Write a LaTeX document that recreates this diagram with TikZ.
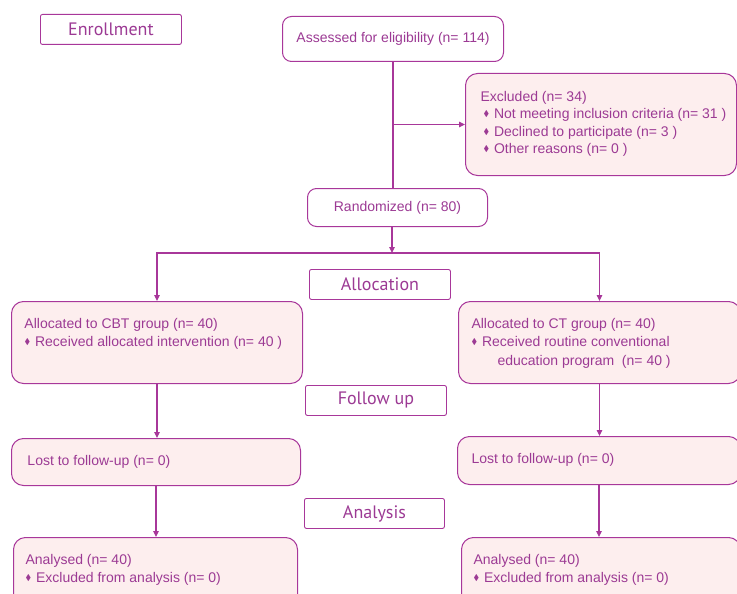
\documentclass[tikz,border=0pt]{standalone}
\usepackage{amssymb}
\usepackage{fontspec}
\setmainfont{Liberation Sans}
\newfontfamily\headfont{PT Sans}
\usetikzlibrary{arrows.meta, calc}

\definecolor{linec}{HTML}{A8379A}
\definecolor{textc}{HTML}{9C3A94}
\definecolor{pinkf}{HTML}{FDEEEE}
\newcommand{\dia}{\raisebox{2pt}{\scalebox{0.6}{$\blacklozenge$}}\hspace{5pt}}

\tikzset{
  stage/.style = {draw=linec, fill=white, rounded corners=2pt, line width=0.9pt,
                  text=textc, font=\headfont\fontsize{18}{20}\selectfont,
                  anchor=north west, inner sep=0pt},
  whitebox/.style = {draw=linec, fill=white, rounded corners=9pt, line width=1pt,
                     text=textc, font=\fontsize{14}{16}\selectfont,
                     anchor=north west, inner sep=0pt},
  pinkbox/.style n args = {3}{whitebox, fill=pinkf, rounded corners=12pt,
                     font=\fontsize{14}{18.5}\selectfont,
                     execute at begin node={\begin{minipage}[c][#2][t]{#1}\leftskip=#3\relax\vspace*{16.5pt}},
                     execute at end node={\end{minipage}}},
  line/.style = {draw=linec, line width=1.2pt},
  arr/.style = {line, -{Triangle[length=6pt, width=5.5pt]}}
}

\begin{document}
\begin{tikzpicture}[x=1pt, y=-1pt]
  \path[use as bounding box, clip] (0,0) rectangle (737,594);

  % enrollment
  \node[stage, minimum width=141pt, minimum height=30pt] (enr) at (40,14) {Enrollment};
  \node[whitebox, minimum width=221pt, minimum height=45pt] (ass) at (282,16)
       {Assessed for eligibility (n= 114)};
  \node[pinkbox={271pt}{102pt}{15pt}] (excl) at (465,73)
       {\vspace{1.5pt}Excluded (n= 34)\\[-1.2pt]
        \hspace*{3pt}\dia Not meeting inclusion criteria (n= 31 )\\[-1.2pt]
        \hspace*{3pt}\dia Declined to participate (n= 3 )\\[-1.2pt]
        \hspace*{3pt}\dia Other reasons (n= 0 )};
  \node[whitebox, minimum width=180pt, minimum height=38pt] (rand) at (307,188)
       {Randomized (n= 80)};

  % allocation
  \node[stage, minimum width=141pt, minimum height=30pt] (alloc) at (309,269) {Allocation};
  \node[pinkbox={291pt}{82pt}{13pt}] (cbt) at (11,301)
       {Allocated to CBT group (n= 40)\\
        \dia Received allocated intervention (n= 40 )};
  \node[pinkbox={282pt}{82pt}{13pt}] (ct) at (458,301)
       {Allocated to CT group (n= 40)\\
        \dia Received routine conventional\\
        \hspace*{26pt}education program\ \ (n= 40 )};

  % follow up
  \node[stage, minimum width=141pt, minimum height=30pt] (fol) at (305,385) {Follow up};
  \node[pinkbox={289pt}{47pt}{16pt}] (lostL) at (11,438) {Lost to follow-up (n= 0)};
  \node[pinkbox={283pt}{48pt}{14pt}] (lostR) at (457,436) {Lost to follow-up (n= 0)};

  % analysis
  \node[stage, minimum width=140pt, minimum height=30pt] (ana) at (304,498) {Analysis};
  \node[pinkbox={284pt}{70pt}{12pt}] (anaL) at (13,537)
       {Analysed (n= 40)\\
        \dia Excluded from analysis (n= 0)};
  \node[pinkbox={279pt}{70pt}{12pt}] (anaR) at (461,537)
       {Analysed (n= 40)\\
        \dia Excluded from analysis (n= 0)};

  \coordinate (br) at (ass.south |- excl.west);
  \coordinate (split) at (392,253);

  \draw[line] (ass.south) -- (ass.south |- rand.north);
  \draw[arr] (br) -- (excl.west);
  \draw[arr] (split |- rand.south) -- (split);
  \draw[arr] (split) -| (cbt.north);
  \draw[arr] (split) -| (ct.north);

  \draw[arr] (cbt.south) -- (cbt.south |- lostL.north);
  \draw[arr] (ct.south) -- (ct.south |- lostR.north);
  \draw[arr] (lostL.south) -- (lostL.south |- anaL.north);
  \draw[arr] (lostR.south) -- (lostR.south |- anaR.north);
\end{tikzpicture}
\end{document}
